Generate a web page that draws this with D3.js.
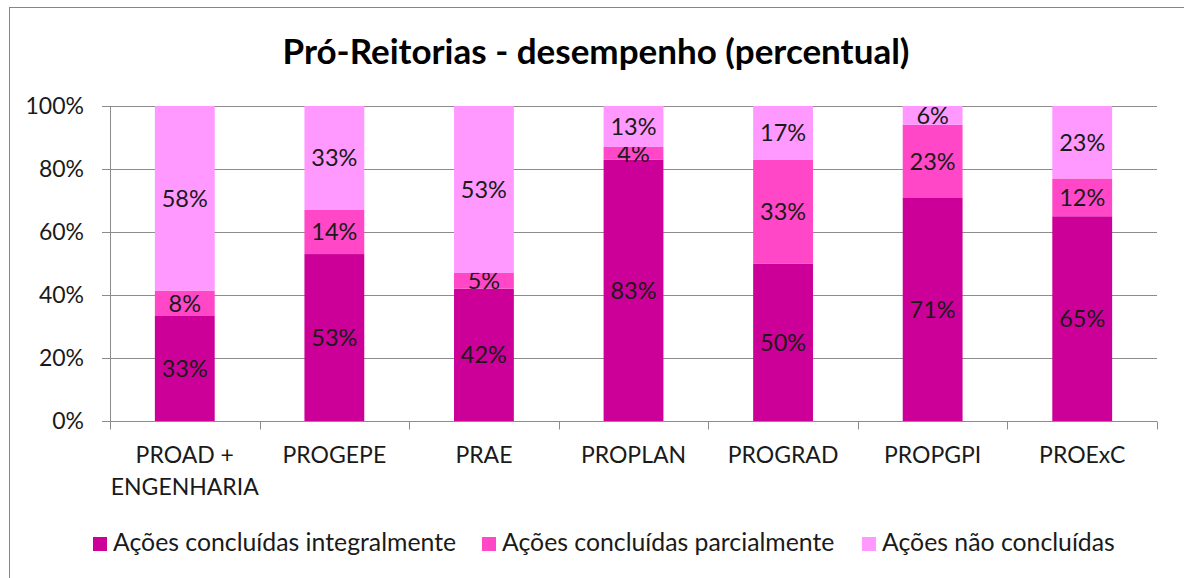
<!DOCTYPE html>
<html>
<head>
<meta charset="utf-8">
<script src="https://cdn.jsdelivr.net/npm/d3@7"></script>
<style>
    body { margin: 0; background: #fff; }
    svg { font-family: Lato, "Open Sans", sans-serif; }
</style>
</head>
<body>
<div id="chart"></div>
<script>
// Data
const categories = ['PROAD + ENGENHARIA', 'PROGEPE', 'PRAE', 'PROPLAN', 'PROGRAD', 'PROPGPI', 'PROExC'];
const seriesNames = ['Ações concluídas integralmente', 'Ações concluídas parcialmente', 'Ações não concluídas'];
const integral = [33, 53, 42, 83, 50, 71, 65];
const parcial = [8, 14, 5, 4, 33, 23, 12];
const naoConcluidas = [58, 33, 53, 13, 17, 6, 23];
const yTicks = [0, 0.2, 0.4, 0.6, 0.8, 1];

const colors = ['#cc0099', '#ff47c8', '#ff99ff'];
const width = 1184, height = 578;
const margin = [106, 157, 110, 27]; // top, bottom, left, right

const svg = d3.select('#chart')
    .append('svg')
    .attr('width', width)
    .attr('height', height);

// chart frame
svg.append('rect')
    .attr('x', 9.5).attr('y', 7.5)
    .attr('width', width).attr('height', height)
    .attr('fill', 'none')
    .attr('stroke', '#868686');

const rows = categories.map((c, i) => ({
    k: c,
    [seriesNames[0]]: integral[i],
    [seriesNames[1]]: parcial[i],
    [seriesNames[2]]: naoConcluidas[i]
}));

const stacked = d3.stack()
    .keys(seriesNames)
    .offset(d3.stackOffsetExpand)(rows);

const chartW = width - margin[2] - margin[3];
const chartH = height - margin[0] - margin[1];

const x = d3.scaleBand()
    .domain(categories)
    .range([margin[2], margin[2] + chartW])
    .paddingInner(0.6)
    .paddingOuter(0.3);

const y = d3.scaleLinear()
    .domain([0, 1])
    .range([margin[0] + chartH, margin[0]]);

// gridlines
svg.append('g')
    .selectAll('line')
    .data(yTicks.slice(1))
    .join('line')
    .attr('x1', margin[2])
    .attr('x2', margin[2] + chartW)
    .attr('y1', d => Math.round(y(d)) + 0.5)
    .attr('y2', d => Math.round(y(d)) + 0.5)
    .attr('stroke', '#8c8c8c');

// bars
const layer = svg.append('g')
    .selectAll('g')
    .data(stacked)
    .join('g')
    .attr('fill', (d, i) => colors[i]);

layer.selectAll('rect')
    .data(d => d)
    .join('rect')
    .attr('x', d => x(d.data.k))
    .attr('y', d => y(d[1]))
    .attr('width', x.bandwidth())
    .attr('height', d => y(d[0]) - y(d[1]));

// value labels
layer.selectAll('text')
    .data((d, i) => d.map(v => ({ v, key: d.key })))
    .join('text')
    .attr('x', d => x(d.v.data.k) + x.bandwidth() / 2)
    .attr('y', d => (y(d.v[0]) + y(d.v[1])) / 2)
    .attr('dy', '0.36em')
    .attr('text-anchor', 'middle')
    .attr('fill', '#1a1a1a')
    .style('font-size', '23.5px')
    .text(d => d.v.data[d.key] + '%');

// axes
const axisY = svg.append('g')
    .attr('transform', `translate(${margin[2]}, 0)`)
    .call(d3.axisLeft(y).tickValues(yTicks).tickFormat(d3.format('.0%')).tickSize(8).tickPadding(18));

const xStep = x.step();
const axisX = svg.append('g')
    .attr('transform', `translate(0, ${Math.round(y(0)) + 0.5})`);
axisX.append('line')
    .attr('x1', margin[2]).attr('x2', margin[2] + chartW)
    .attr('stroke', '#8c8c8c');
axisX.selectAll('.tick')
    .data(d3.range(categories.length + 1))
    .join('line')
    .attr('x1', i => Math.round(margin[2] + i * xStep) + 0.5)
    .attr('x2', i => Math.round(margin[2] + i * xStep) + 0.5)
    .attr('y1', 0).attr('y2', 8)
    .attr('stroke', '#8c8c8c');

axisY.select('.domain').attr('stroke', '#8c8c8c');
axisY.selectAll('.tick line').attr('stroke', '#8c8c8c');
axisY.selectAll('.tick text')
    .style('font-size', '23px')
    .style('font-family', 'Lato, sans-serif')
    .attr('fill', '#1a1a1a');

// category labels (wrap on " + ")
svg.append('g')
    .selectAll('text')
    .data(categories)
    .join('text')
    .attr('x', d => x(d) + x.bandwidth() / 2)
    .attr('y', 463)
    .attr('text-anchor', 'middle')
    .attr('fill', '#1a1a1a')
    .style('font-size', '23px')
    .each(function (d) {
        const parts = d.includes(' + ') ? [d.split(' + ')[0] + ' +', d.split(' + ')[1]] : [d];
        d3.select(this).selectAll('tspan')
            .data(parts)
            .join('tspan')
            .attr('x', x(d) + x.bandwidth() / 2)
            .attr('dy', (p, i) => i === 0 ? 0 : 32)
            .text(p => p);
    });

// title
svg.append('text')
    .attr('x', 596)
    .attr('y', 64)
    .attr('text-anchor', 'middle')
    .attr('fill', '#000')
    .style('font-size', '35px')
    .style('font-weight', 'bold')
    .text('Pró-Reitorias - desempenho (percentual)');

// legend
const legendX = [93, 482, 862];
const legend = svg.append('g')
    .selectAll('g')
    .data(seriesNames)
    .join('g')
    .attr('transform', (d, i) => `translate(${legendX[i]}, 551)`);

legend.append('rect')
    .attr('x', 0).attr('y', -14)
    .attr('width', 14).attr('height', 14)
    .attr('fill', (d, i) => colors[i]);

legend.append('text')
    .attr('x', 20)
    .attr('fill', '#1a1a1a')
    .style('font-size', '24.8px')
    .text(d => d);
</script>
</body>
</html>
